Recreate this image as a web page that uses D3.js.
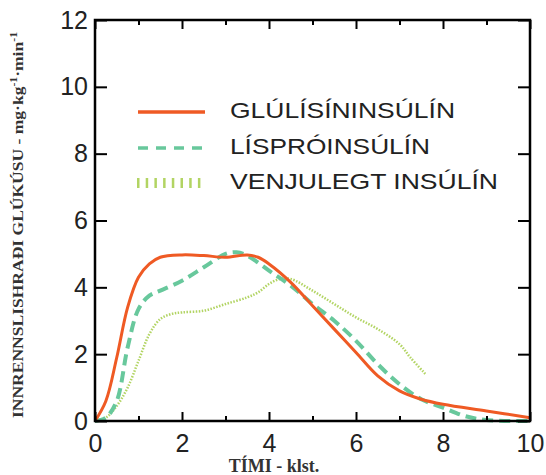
<!DOCTYPE html>
<html>
<head>
<meta charset="utf-8">
<script src="https://d3js.org/d3.v7.min.js"></script>
<style>
  body { margin: 0; background: #fff; }
  svg { display: block; }
</style>
</head>
<body>
<div id="chart"></div>
<script>
// Series data (hours vs glucose infusion rate mg/kg/min)
const glulisineTime = [0, 0.25, 0.5, 0.75, 1, 1.25, 1.5, 2, 2.5, 3, 3.5, 3.75, 4, 4.5, 5, 5.5, 6, 6.5, 7, 7.5, 8, 9, 10]
const glulisineRate = [0, 0.6, 1.9, 3.4, 4.3, 4.7, 4.9, 4.97, 4.95, 4.9, 4.97, 4.9, 4.7, 4.15, 3.45, 2.75, 2.05, 1.35, 0.9, 0.65, 0.5, 0.3, 0.1]

const lisproTime = [0, 0.25, 0.5, 0.75, 1, 1.25, 1.5, 2, 2.5, 3, 3.25, 3.5, 4, 4.5, 5, 5.5, 6, 6.5, 7, 7.5, 8, 8.5, 9, 10]
const lisproRate = [0, 0.1, 0.6, 2.2, 3.35, 3.75, 3.9, 4.2, 4.6, 5.0, 5.05, 4.95, 4.5, 4.05, 3.5, 3.0, 2.4, 1.7, 1.1, 0.65, 0.4, 0.15, 0.03, 0]

const regularTime = [0, 0.25, 0.5, 0.75, 1, 1.25, 1.5, 1.75, 2, 2.5, 3, 3.5, 3.75, 4, 4.25, 4.5, 5, 5.5, 6, 6.5, 7, 7.25, 7.6]
const regularRate = [0, 0.1, 0.45, 1.0, 1.8, 2.6, 3.05, 3.2, 3.25, 3.3, 3.5, 3.7, 3.85, 4.1, 4.25, 4.25, 3.9, 3.5, 3.1, 2.75, 2.3, 1.9, 1.4]

const seriesNames = ["GLÚLÍSÍNINSÚLÍN", "LÍSPRÓINSÚLÍN", "VENJULEGT INSÚLÍN"]
const xMajorTicks = [0, 2, 4, 6, 8, 10]
const xMinorTicks = [1, 3, 5, 7, 9]
const yTicks = [0, 2, 4, 6, 8, 10, 12]

const w = 546
const h = 475
const plotLeft = 95, plotRight = 530, plotTop = 20, plotBottom = 421

const x = d3.scaleLinear().domain([0, 10]).range([plotLeft, plotRight])
const y = d3.scaleLinear().domain([0, 12]).range([plotBottom, plotTop])

const svg = d3.select("#chart").append("svg")
    .attr("width", w)
    .attr("height", h)

const series = [
    { name: seriesNames[0], t: glulisineTime, v: glulisineRate, color: "#ef5a24", width: 3, dash: null },
    { name: seriesNames[1], t: lisproTime, v: lisproRate, color: "#68c89c", width: 4, dash: "11,6" },
    { name: seriesNames[2], t: regularTime, v: regularRate, color: "#b2d463", width: 2.5, dash: "1.5,1.5" }
]

const line = d3.line()
    .x(d => x(d[0]))
    .y(d => y(d[1]))
    .curve(d3.curveCatmullRom.alpha(0.5))

// curves (draw regular first so the others sit on top)
series.slice().reverse().forEach(s => {
    svg.append("path")
        .datum(s.t.map((t, i) => [t, s.v[i]]))
        .attr("fill", "none")
        .attr("stroke", s.color)
        .attr("stroke-width", s.width)
        .attr("stroke-dasharray", s.dash)
        .attr("d", line)
})

// axes: ticks point inward on all four sides
const tickFont = "'Liberation Sans', Arial, sans-serif"

const styleAxis = g => {
    g.select(".domain").remove()
    g.selectAll("line").attr("stroke", "#000").attr("stroke-width", 2)
    g.selectAll("text")
        .attr("font-family", tickFont)
        .attr("font-size", 25)
        .attr("fill", "#222")
}

svg.append("g")
    .attr("transform", `translate(0,${plotBottom})`)
    .call(d3.axisBottom(x).tickValues(xMajorTicks).tickSize(-9).tickPadding(13).tickFormat(d3.format("d")))
    .call(styleAxis)
svg.append("g")
    .attr("transform", `translate(0,${plotBottom})`)
    .call(d3.axisBottom(x).tickValues(xMinorTicks).tickSize(-5).tickFormat(""))
    .call(styleAxis)
svg.append("g")
    .attr("transform", `translate(0,${plotTop})`)
    .call(d3.axisTop(x).tickValues(xMajorTicks).tickSize(-9).tickFormat(""))
    .call(styleAxis)
svg.append("g")
    .attr("transform", `translate(0,${plotTop})`)
    .call(d3.axisTop(x).tickValues(xMinorTicks).tickSize(-5).tickFormat(""))
    .call(styleAxis)
svg.append("g")
    .attr("transform", `translate(${plotLeft},0)`)
    .call(d3.axisLeft(y).tickValues(yTicks).tickSize(-12).tickPadding(7).tickFormat(d3.format("d")))
    .call(styleAxis)
svg.append("g")
    .attr("transform", `translate(${plotRight},0)`)
    .call(d3.axisRight(y).tickValues(yTicks).tickSize(-12).tickFormat(""))
    .call(styleAxis)

// frame
svg.append("rect")
    .attr("x", plotLeft)
    .attr("y", plotTop)
    .attr("width", plotRight - plotLeft)
    .attr("height", plotBottom - plotTop)
    .attr("fill", "none")
    .attr("stroke", "#000")
    .attr("stroke-width", 2.5)

// legend
const legendY = [112, 148, 183]
const legendTextY = [118, 154, 189]
const legendWidths = [225, 200, 268]
series.forEach((s, i) => {
    const l = svg.append("line")
        .attr("x1", 138)
        .attr("x2", 205)
        .attr("y1", legendY[i])
        .attr("y2", legendY[i])
        .attr("stroke", s.color)
    if (i == 0) l.attr("stroke-width", 3.5)
    if (i == 1) l.attr("stroke-width", 3.5).attr("stroke-dasharray", "10,8")
    if (i == 2) l.attr("stroke-width", 10).attr("stroke-dasharray", "2.5,6.2").attr("x1", 137)
    svg.append("text")
        .attr("x", 230)
        .attr("y", legendTextY[i])
        .attr("font-family", tickFont)
        .attr("font-size", 22)
        .attr("fill", "#222")
        .attr("textLength", legendWidths[i])
        .attr("lengthAdjust", "spacingAndGlyphs")
        .text(s.name)
})

// axis titles
svg.append("text")
    .attr("x", 274)
    .attr("y", 472)
    .attr("text-anchor", "middle")
    .attr("font-family", "'Liberation Serif', 'Times New Roman', serif")
    .attr("font-weight", "bold")
    .attr("font-size", 18)
    .attr("fill", "#333")
    .text("TÍMI - klst.")

const yTitle = svg.append("text")
    .attr("transform", "translate(23,225) rotate(-90)")
    .attr("text-anchor", "middle")
    .attr("font-family", "'Liberation Serif', 'Times New Roman', serif")
    .attr("font-weight", "bold")
    .attr("font-size", 15)
    .attr("fill", "#333")
    .attr("textLength", 386)
    .attr("lengthAdjust", "spacingAndGlyphs")
yTitle.append("tspan").text("INNRENNSLISHRAÐI GLÚKÚSU - mg·kg")
yTitle.append("tspan").attr("font-size", 10).attr("dy", -6).text("-1")
yTitle.append("tspan").attr("dy", 6).text("·min")
yTitle.append("tspan").attr("font-size", 10).attr("dy", -6).text("-1")
</script>
</body>
</html>
